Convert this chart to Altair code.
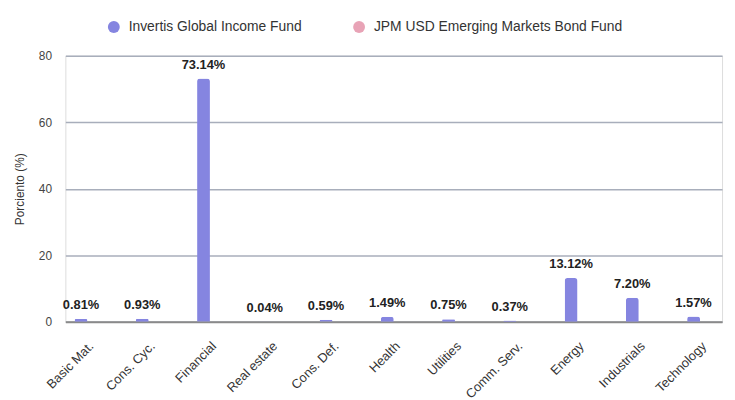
import altair as alt
import pandas as pd

categories = ["Basic Mat.", "Cons. Cyc.", "Financial", "Real estate", "Cons. Def.",
              "Health", "Utilities", "Comm. Serv.", "Energy", "Industrials", "Technology"]
invertis = [0.81, 0.93, 73.14, 0.04, 0.59, 1.49, 0.75, 0.37, 13.12, 7.20, 1.57]
jpm = [0, 0, 0, 0, 0, 0, 0, 0, 0, 0, 0]
funds = ["Invertis Global Income Fund", "JPM USD Emerging Markets Bond Fund"]
colors = ["#8585e0", "#e8a3b6"]

rows = []
for c, v in zip(categories, invertis):
    rows.append({"cat": c, "fund": funds[0], "val": v})
for c, v in zip(categories, jpm):
    rows.append({"cat": c, "fund": funds[1], "val": v})
df = pd.DataFrame(rows)

FONT = "Liberation Sans"

x = alt.X("cat:N", sort=categories, title=None,
          scale=alt.Scale(paddingInner=0.58, paddingOuter=0.15),
          axis=alt.Axis(labelAngle=-45, ticks=False, labelPadding=18,
                        labelFontSize=13,
                        labelColor="#333333", domainColor="#8a8a8a", domainWidth=2,
                        labelFont=FONT))
xo = alt.XOffset("fund:N", sort=funds, scale=alt.Scale(paddingInner=0, paddingOuter=0))
y = alt.Y("val:Q", title="Porciento (%)",
          scale=alt.Scale(domain=[0, 80]),
          axis=alt.Axis(values=[0, 20, 40, 60, 80], ticks=False, domain=False,
                        labelPadding=14, labelFontSize=12, labelColor="#444444",
                        gridColor="#a8aebb", gridWidth=1.5, titleFontWeight="normal",
                        titleFontSize=12, titleColor="#333333", titlePadding=12,
                        labelFont=FONT, titleFont=FONT))

bars = alt.Chart(df).mark_bar(cornerRadiusTopLeft=3, cornerRadiusTopRight=3).encode(
    x=x, xOffset=xo, y=y,
    color=alt.Color("fund:N", sort=funds,
                    scale=alt.Scale(domain=funds, range=colors),
                    legend=alt.Legend(title=None, orient="none", direction="horizontal",
                                      legendX=37, legendY=-41, padding=5,
                                      symbolType="circle",
                                      symbolSize=144, symbolStrokeWidth=0,
                                      labelFontSize=14, labelColor="#333333",
                                      labelFont=FONT, columnPadding=50, labelOffset=8,
                                      labelLimit=0))
)

labels = alt.Chart(df).transform_filter(
    alt.datum.fund == funds[0]
).transform_calculate(
    lbl="format(datum.val, '.2f') + '%'"
).mark_text(dy=-7, fontWeight="bold", fontSize=13, color="#222222", font=FONT,
            baseline="bottom").encode(
    x=alt.X("cat:N", sort=categories),
    xOffset=xo,
    y=alt.Y("val:Q"),
    text="lbl:N"
)

chart = alt.layer(bars, labels).properties(
    width=664, height=269
).configure_view(stroke=None).configure(font=FONT)

chart.save("out.html", embed_options={"renderer": "svg", "actions": False})
